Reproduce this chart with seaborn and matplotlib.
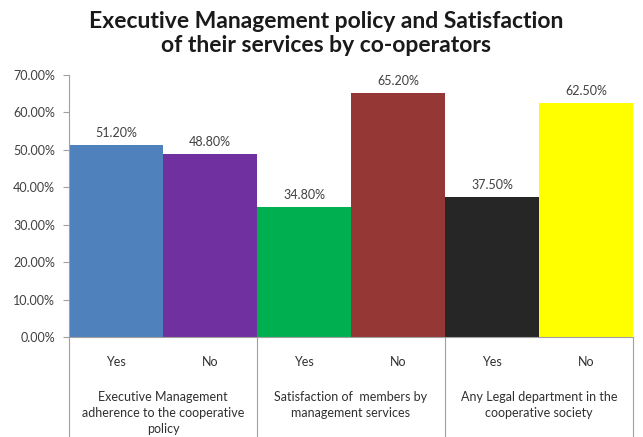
import pandas as pd
import seaborn as sns
import matplotlib.pyplot as plt
from matplotlib.transforms import blended_transform_factory

groups = [
    'Executive Management\nadherence to the cooperative\npolicy',
    'Satisfaction of  members by\nmanagement services',
    'Any Legal department in the\ncooperative society',
]
answers = ['Yes', 'No', 'Yes', 'No', 'Yes', 'No']
values = [51.2, 48.8, 34.8, 65.2, 37.5, 62.5]
colors = ['#4F81BD', '#7030A0', '#00B050', '#953735', '#262626', '#FFFF00']

df = pd.DataFrame({
    'key': [f'{i}' for i in range(len(values))],
    'answer': answers,
    'value': values,
})

sns.set_style('white')
plt.rcParams['font.family'] = ['Lato', 'DejaVu Sans']

fig = plt.figure(figsize=(6.43, 4.37), dpi=100)
ax = fig.add_axes([0.1073, 0.2288, 0.8771, 0.5996])

sns.barplot(data=df, x='key', y='value', hue='key', palette=colors,
            width=1.0, legend=False, ax=ax, saturation=1,
            edgecolor='none', linewidth=0)

for p, v in zip(ax.patches, values):
    ax.text(p.get_x() + p.get_width() / 2, v + 1.6, f'{v:.2f}%',
            ha='center', va='bottom', fontsize=9, color='#404040')

ax.set_ylim(0, 70)
ax.set_xlim(-0.5, len(values) - 0.5)
ax.set_yticks(range(0, 71, 10))
ax.set_yticklabels([f'{t:.2f}%' for t in range(0, 71, 10)], fontsize=9, color='#404040')
ax.set_xticks(range(len(values)))
ax.set_xticklabels(answers, fontsize=9, color='#303030')
ax.tick_params(axis='x', length=0, pad=14)
ax.tick_params(axis='y', length=4, width=0.8, color='#A0A0A0', left=True, pad=6)
ax.set_xlabel('')
ax.set_ylabel('')

for s in ['top', 'right']:
    ax.spines[s].set_visible(False)
for s in ['left', 'bottom']:
    ax.spines[s].set_color('#A0A0A0')
    ax.spines[s].set_linewidth(0.8)

# group separators and group labels below the axis
tr = blended_transform_factory(ax.transData, ax.transAxes)
for b in [-0.5, 1.5, 3.5, 5.5]:
    ax.plot([b, b], [0, -0.38], transform=tr, color='#A0A0A0', lw=0.8, clip_on=False)
for i, g in enumerate(groups):
    ax.text(2 * i + 0.5, -0.205, g, transform=tr, ha='center', va='top',
            fontsize=9, color='#303030', linespacing=1.4)

fig.suptitle('Executive Management policy and Satisfaction\nof their services by co-operators',
             fontsize=16.5, fontweight='bold', color='#1a1a1a', y=0.975, x=0.507,
             linespacing=1.2)

fig.savefig('out.png', dpi=100)
